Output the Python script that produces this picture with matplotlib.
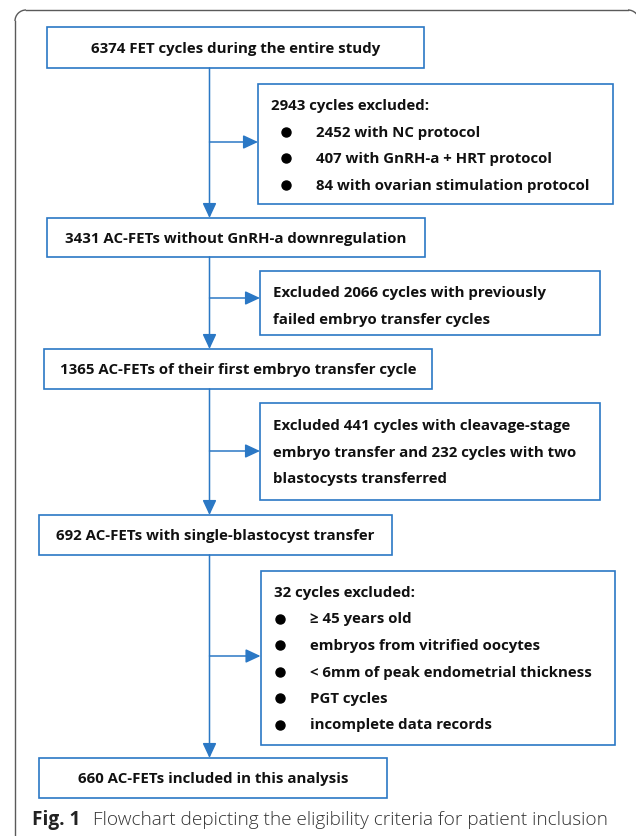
import matplotlib.pyplot as plt
from matplotlib.patches import Rectangle, Arc

BLUE = "#2b78c5"
GREY = "#5a5a5a"

# main flow boxes (top to bottom)
main_texts = [
    "6374 FET cycles during the entire study",
    "3431 AC-FETs without GnRH-a downregulation",
    "1365 AC-FETs of their first embryo transfer cycle",
    "692 AC-FETs with single-blastocyst transfer",
    "660 AC-FETs included in this analysis",
]
# exclusion boxes: (header lines, bullet lines)
excl_headers = [
    ["2943 cycles excluded:"],
    ["Excluded 2066 cycles with previously", "failed embryo transfer cycles"],
    ["Excluded 441 cycles with cleavage-stage",
     "embryo transfer and 232 cycles with two",
     "blastocysts transferred"],
    ["32 cycles excluded:"],
]
excl_bullets = [
    ["2452 with NC protocol", "407 with GnRH-a + HRT protocol",
     "84 with ovarian stimulation protocol"],
    [],
    [],
    ["\u2265 45 years old", "embryos from vitrified oocytes",
     "< 6mm of peak endometrial thickness", "PGT cycles",
     "incomplete data records"],
]
caption_bold = "Fig. 1"
caption_text = "Flowchart depicting the eligibility criteria for patient inclusion"

# layout (pixels, y down)
main_boxes = [(47, 28, 424, 69), (47, 219, 425, 258), (43.5, 350, 432, 390),
              (39, 516, 392, 556), (39, 759, 387, 799)]
excl_boxes = [(258, 85, 613, 205), (260, 272, 600, 336), (260, 404, 600, 501),
              (260.5, 572, 615, 746)]
excl_first_y = [106, 293, 426, 593]
line_gap = 26.5
spine_x = 209.5
branch_y = [143, 299, 452, 657]

fig = plt.figure(figsize=(6.36, 8.37), dpi=100)
ax = fig.add_axes([0, 0, 1, 1])
ax.set_xlim(0, 636)
ax.set_ylim(837, 0)
ax.axis("off")

# open outer frame: left edge, top edge and two rounded corners
r = 11
fl, ft, fr = 15, 11, 639
ax.plot([fl, fl], [ft + r, 837], color=GREY, lw=1.0)
ax.plot([fl + r, fr - r], [ft, ft], color=GREY, lw=1.0)
ax.add_patch(Arc((fl + r, ft + r), 2 * r, 2 * r, theta1=180, theta2=270, color=GREY, lw=1.0))
ax.add_patch(Arc((fr - r, ft + r), 2 * r, 2 * r, theta1=270, theta2=360, color=GREY, lw=1.0))

font = dict(family=["Open Sans", "DejaVu Sans"], fontweight="bold", fontsize=10.8,
            color="#111111")

for (x0, y0, x1, y1), t in zip(main_boxes, main_texts):
    ax.add_patch(Rectangle((x0, y0), x1 - x0, y1 - y0, fc="white", ec=BLUE, lw=1.2))
    ax.text((x0 + x1) / 2, (y0 + y1) / 2, t, ha="center", va="center", **font)

for i, ((x0, y0, x1, y1), heads, bullets) in enumerate(
        zip(excl_boxes, excl_headers, excl_bullets)):
    ax.add_patch(Rectangle((x0, y0), x1 - x0, y1 - y0, fc="white", ec=BLUE, lw=1.2))
    y = excl_first_y[i]
    for h in heads:
        ax.text(x0 + 13, y, h, ha="left", va="center", **font)
        y += line_gap
    bx = 286 if i == 0 else 280
    tx = 316 if i == 0 else 310
    for b in bullets:
        ax.plot(bx, y, "o", ms=6.5, color="black")
        ax.text(tx, y, b, ha="left", va="center", **font)
        y += line_gap

arrow = dict(arrowstyle="-|>,head_length=0.9,head_width=0.42", color=BLUE, lw=1.1,
             shrinkA=0, shrinkB=0)
for k in range(len(main_boxes) - 1):
    ax.annotate("", xy=(spine_x, main_boxes[k + 1][1]), xytext=(spine_x, main_boxes[k][3]),
                arrowprops=arrow)
    ax.annotate("", xy=(excl_boxes[k][0], branch_y[k]), xytext=(spine_x, branch_y[k]),
                arrowprops=arrow)

ax.text(32, 820, caption_bold, ha="left", va="center", fontsize=13.7,
        fontweight="bold", family=["Open Sans", "DejaVu Sans"], color="#222222")
ax.text(93, 820, caption_text, ha="left", va="center", fontsize=13.7,
        fontweight="light", family=["Open Sans", "DejaVu Sans"], color="#333333")

fig.savefig("out.png", dpi=100)
